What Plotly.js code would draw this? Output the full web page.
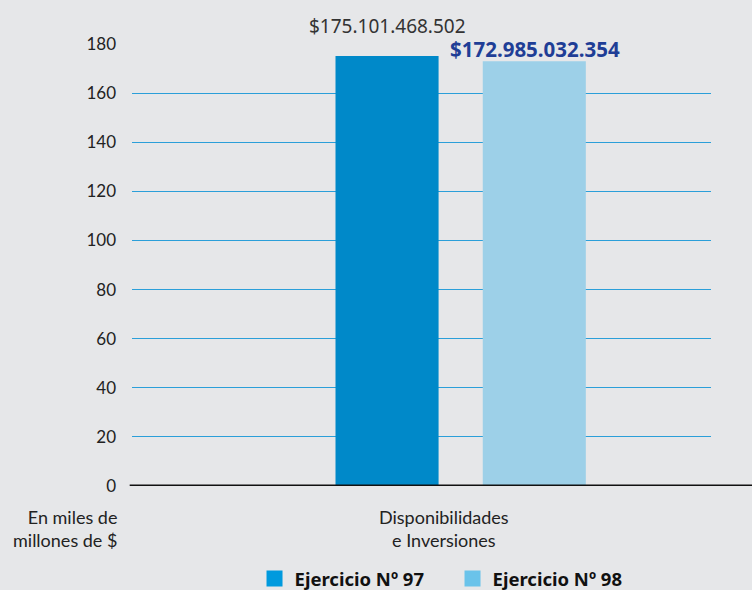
<!DOCTYPE html>
<html>
<head>
<meta charset="utf-8">
<script src="https://cdn.plot.ly/plotly-3.0.1.min.js"></script>
<style>html,body{margin:0;padding:0;background:#e6e7e9;}#chart{width:752px;height:590px;}</style>
</head>
<body>
<div id="chart"></div>
<script>
const categories = ["Disponibilidades<br>e Inversiones"];
const seriesNames = ["Ejercicio Nº 97", "Ejercicio Nº 98"];
const values97 = [175.101468502];
const values98 = [172.985032354];
const valueLabels = ["$175.101.468.502", "$172.985.032.354"];
const yTicks = [0, 20, 40, 60, 80, 100, 120, 140, 160, 180];
const yAxisNote = "En miles de<br>millones de $";

const barColors = ["#0089c9", "#9dd0e8"];
const legendColors = ["#009ade", "#6ac3ea"];

const traces = [
  {type: "bar", x: categories, y: values97, name: seriesNames[0], marker: {color: barColors[0]}, showlegend: false, hoverinfo: "skip"},
  {type: "bar", x: categories, y: values98, name: seriesNames[1], marker: {color: barColors[1]}, showlegend: false, hoverinfo: "skip"},
  {type: "scatter", mode: "markers", x: [null], y: [null], name: "<b>" + seriesNames[0] + "</b>", marker: {symbol: "square", size: 17, color: legendColors[0]}},
  {type: "scatter", mode: "markers", x: [null], y: [null], name: "<b>" + seriesNames[1] + "</b>", marker: {symbol: "square", size: 17, color: legendColors[1]}}
];

const layout = {
  width: 752, height: 590,
  paper_bgcolor: "#e6e7e9", plot_bgcolor: "#e6e7e9",
  margin: {l: 132, r: 41, t: 44, b: 104},
  barmode: "group", bargap: 0.5, bargroupgap: 0.3,
  showlegend: true,
  legend: {orientation: "h", xref: "paper", yref: "container", x: 0.2116, xanchor: "left", y: 0.0186, yanchor: "middle",
           font: {family: "Noto Sans", size: 18.5, color: "#111"}, itemwidth: 30,
           bgcolor: "rgba(0,0,0,0)", traceorder: "normal", entrywidth: 153},
  xaxis: {type: "category", range: [-0.558, 0.425], showticklabels: false, showgrid: false,
          zeroline: false, showline: false, ticks: ""},
  yaxis: {range: [0, 180], tickvals: yTicks, showgrid: true, gridcolor: "#2b9fd9", gridwidth: 1,
          zeroline: false, showline: false, ticks: "", ticklabelstandoff: 15,
          tickfont: {family: "Lato", size: 17, color: "#222"}},
  shapes: [
    {type: "line", xref: "paper", yref: "y", x0: -0.004, x1: 1.08, y0: 0, y1: 0,
     line: {color: "#111", width: 3}, layer: "above"}
  ],
  annotations: [
    {xref: "x", yref: "y", x: -0.125, y: values97[0], text: valueLabels[0], showarrow: false,
     yanchor: "bottom", yshift: 15, font: {family: "Noto Sans", size: 19, color: "#333"}},
    {xref: "x", yref: "y", x: 0.125, y: values98[0], text: "<b>" + valueLabels[1] + "</b>", showarrow: false,
     yanchor: "bottom", yshift: -4, xshift: 1, font: {family: "Noto Sans", size: 20.5, color: "#1f3e96"}},
    {xref: "x", yref: "paper", x: -0.029, y: 0, text: categories[0], showarrow: false,
     yanchor: "top", yshift: -18, align: "center",
     font: {family: "Lato", size: 18, color: "#222"}},
    {xref: "paper", yref: "paper", x: 0, y: 0, text: yAxisNote, showarrow: false,
     xanchor: "right", yanchor: "top", xshift: -13, yshift: -18, align: "right",
     font: {family: "Lato", size: 18, color: "#222"}}
  ]
};

Plotly.newPlot("chart", traces, layout, {displayModeBar: false, staticPlot: true});
</script>
</body>
</html>
